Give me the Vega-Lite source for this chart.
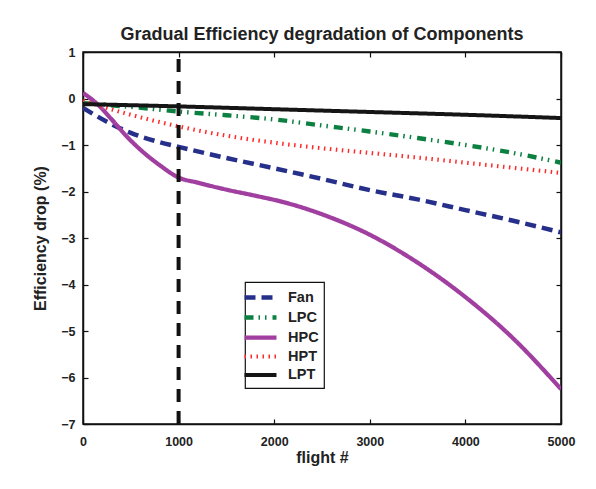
{
  "$schema": "https://vega.github.io/schema/vega-lite/v6.json",
  "autosize": {"type": "none"},
  "padding": {"left": 83, "top": 52, "right": 35, "bottom": 65},
  "width": 478,
  "height": 372,
  "background": "white",
  "title": {
    "text": "Gradual Efficiency degradation of Components",
    "font": "Liberation Sans",
    "fontSize": 18,
    "fontWeight": "bold",
    "color": "#222222",
    "offset": 2,
    "anchor": "middle"
  },
  "config": {
    "view": {"stroke": "#111111", "strokeWidth": 1.5},
    "axis": {
      "labelFont": "Liberation Sans",
      "labelFontSize": 12.5,
      "labelFontWeight": "bold",
      "labelColor": "#222222",
      "titleFont": "Liberation Sans",
      "titleFontSize": 16,
      "titleFontWeight": "bold",
      "titleColor": "#222222",
      "grid": false,
      "domainColor": "#111111",
      "domainWidth": 1.5,
      "tickColor": "#111111",
      "tickWidth": 1.2,
      "tickSize": -5
    },
    "legend": {
      "orient": "none",
      "legendX": 162,
      "legendY": 230,
      "strokeColor": "#111111",
      "strokeWidth": 1.2,
      "fillColor": "white",
      "padding": 5,
      "labelFont": "Liberation Sans",
      "labelFontSize": 14.5,
      "labelFontWeight": "bold",
      "labelColor": "#222222",
      "symbolType": "M-2,0H2",
      "symbolSize": 256,
      "symbolFillColor": "transparent",
      "rowPadding": 0,
      "labelOffset": 17
    }
  },
  "resolve": {"axis": {"x": "independent", "y": "independent"}},
  "layer": [
    {
      "data": {
        "values": [
          {"c": "Fan", "f": 0, "v": -0.2},
          {"c": "Fan", "f": 250, "v": -0.5},
          {"c": "Fan", "f": 500, "v": -0.74},
          {"c": "Fan", "f": 750, "v": -0.91},
          {"c": "Fan", "f": 1000, "v": -1.04},
          {"c": "Fan", "f": 1500, "v": -1.28},
          {"c": "Fan", "f": 2000, "v": -1.5},
          {"c": "Fan", "f": 2500, "v": -1.73},
          {"c": "Fan", "f": 3000, "v": -1.97},
          {"c": "Fan", "f": 3500, "v": -2.17},
          {"c": "Fan", "f": 4000, "v": -2.4},
          {"c": "Fan", "f": 4500, "v": -2.63},
          {"c": "Fan", "f": 5000, "v": -2.88},
          {"c": "LPC", "f": 0, "v": -0.1},
          {"c": "LPC", "f": 500, "v": -0.18},
          {"c": "LPC", "f": 1000, "v": -0.28},
          {"c": "LPC", "f": 1500, "v": -0.36},
          {"c": "LPC", "f": 2000, "v": -0.45},
          {"c": "LPC", "f": 2500, "v": -0.58},
          {"c": "LPC", "f": 3000, "v": -0.71},
          {"c": "LPC", "f": 3500, "v": -0.85},
          {"c": "LPC", "f": 4000, "v": -1.0},
          {"c": "LPC", "f": 4500, "v": -1.17},
          {"c": "LPC", "f": 5000, "v": -1.38},
          {"c": "HPC", "f": 0, "v": 0.12},
          {"c": "HPC", "f": 150, "v": -0.12},
          {"c": "HPC", "f": 300, "v": -0.45},
          {"c": "HPC", "f": 450, "v": -0.8},
          {"c": "HPC", "f": 600, "v": -1.1},
          {"c": "HPC", "f": 800, "v": -1.43},
          {"c": "HPC", "f": 1000, "v": -1.7},
          {"c": "HPC", "f": 1200, "v": -1.81},
          {"c": "HPC", "f": 1500, "v": -1.96},
          {"c": "HPC", "f": 1800, "v": -2.09},
          {"c": "HPC", "f": 2100, "v": -2.23},
          {"c": "HPC", "f": 2500, "v": -2.49},
          {"c": "HPC", "f": 3000, "v": -2.93},
          {"c": "HPC", "f": 3500, "v": -3.53},
          {"c": "HPC", "f": 4000, "v": -4.27},
          {"c": "HPC", "f": 4500, "v": -5.16},
          {"c": "HPC", "f": 5000, "v": -6.25},
          {"c": "HPT", "f": 0, "v": -0.05},
          {"c": "HPT", "f": 500, "v": -0.35},
          {"c": "HPT", "f": 1000, "v": -0.6},
          {"c": "HPT", "f": 1500, "v": -0.8},
          {"c": "HPT", "f": 2000, "v": -0.95},
          {"c": "HPT", "f": 2500, "v": -1.07},
          {"c": "HPT", "f": 3000, "v": -1.17},
          {"c": "HPT", "f": 3500, "v": -1.27},
          {"c": "HPT", "f": 4000, "v": -1.38},
          {"c": "HPT", "f": 4500, "v": -1.49},
          {"c": "HPT", "f": 5000, "v": -1.6},
          {"c": "LPT", "f": 0, "v": -0.12},
          {"c": "LPT", "f": 1000, "v": -0.17},
          {"c": "LPT", "f": 2000, "v": -0.23},
          {"c": "LPT", "f": 3000, "v": -0.29},
          {"c": "LPT", "f": 4000, "v": -0.35},
          {"c": "LPT", "f": 5000, "v": -0.42}
        ]
      },
      "mark": {"type": "line", "interpolate": "monotone", "clip": true},
      "encoding": {
        "x": {
          "field": "f", "type": "quantitative",
          "scale": {"domain": [0, 5000], "nice": false, "zero": false},
          "axis": {"title": "flight #", "values": [0, 1000, 2000, 3000, 4000, 5000], "format": "d", "labelPadding": 16, "titlePadding": 2, "labelFlush": false}
        },
        "y": {
          "field": "v", "type": "quantitative",
          "scale": {"domain": [-7, 1], "nice": false, "zero": false},
          "axis": {"title": "Efficiency drop (%)", "values": [-7, -6, -5, -4, -3, -2, -1, 0, 1], "format": "d", "labelPadding": 13, "titlePadding": 12}
        },
        "color": {
          "field": "c", "type": "nominal", "title": null,
          "scale": {"domain": ["Fan", "LPC", "HPC", "HPT", "LPT"], "range": ["#26308a", "#0b8040", "#a03fa0", "#ff2a2a", "#151515"]}
        },
        "strokeDash": {
          "field": "c", "type": "nominal", "title": null,
          "scale": {"domain": ["Fan", "LPC", "HPC", "HPT", "LPT"], "range": [[11, 6], [9, 5, 1.5, 5, 1.5, 6], [1, 0], [1.5, 4.5], [1, 0]]}
        },
        "strokeWidth": {
          "field": "c", "type": "nominal", "title": null,
          "scale": {"domain": ["Fan", "LPC", "HPC", "HPT", "LPT"], "range": [4.5, 4, 5, 3.5, 3]}
        },
        "order": {"field": "f", "type": "quantitative"}
      }
    },
    {
      "data": {"values": [{"f": 1000, "lo": -7, "hi": 1}]},
      "mark": {"type": "rule", "color": "#111111", "strokeWidth": 4, "strokeDash": [13, 9]},
      "encoding": {
        "x": {
          "field": "f", "type": "quantitative",
          "scale": {"domain": [0, 5000], "nice": false, "zero": false},
          "axis": {"orient": "top", "title": null, "labels": false, "values": [0, 1000, 2000, 3000, 4000, 5000], "domain": true}
        },
        "y": {
          "field": "lo", "type": "quantitative",
          "scale": {"domain": [-7, 1], "nice": false, "zero": false},
          "axis": {"orient": "right", "title": null, "labels": false, "values": [-7, -6, -5, -4, -3, -2, -1, 0, 1], "domain": true}
        },
        "y2": {"field": "hi"}
      }
    }
  ]
}
